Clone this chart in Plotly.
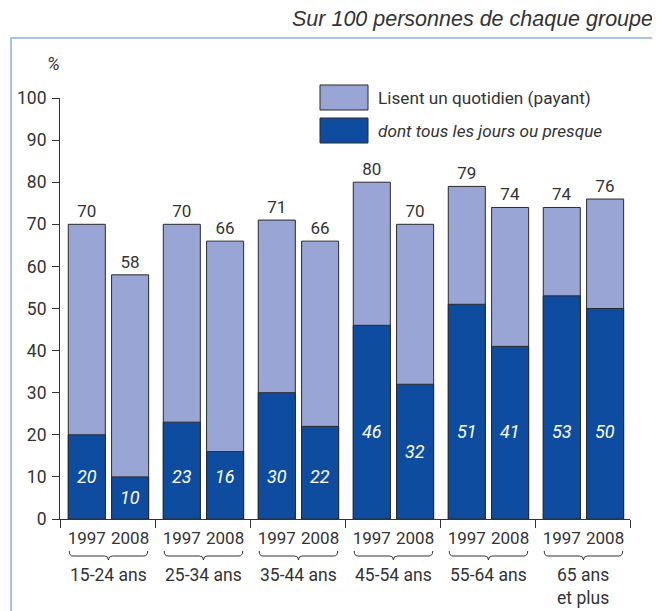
import plotly.graph_objects as go

# ---------------- data ----------------
groups = ["15-24 ans", "25-34 ans", "35-44 ans", "45-54 ans", "55-64 ans", "65 ans<br>et plus"]
years = ["1997", "2008"]
total_1997 = [70, 70, 71, 80, 79, 74]
total_2008 = [58, 66, 66, 70, 74, 76]
daily_1997 = [20, 23, 30, 46, 51, 53]
daily_2008 = [10, 16, 22, 32, 41, 50]
series_names = ["Lisent un quotidien (payant)", "dont tous les jours ou presque"]
y_ticks = [0, 10, 20, 30, 40, 50, 60, 70, 80, 90, 100]

# ---------------- layout helpers ----------------
OFF = 8  # page body margin
W, H = 660 - OFF, 611 - OFF
ML, MT = 60 - OFF, 98 - OFF
MR = W - (630 - OFF)
MB = H - (519 - OFF)
PW, PH = W - ML - MR, H - MT - MB

def px_x(p):  # page pixel -> paper x
    return (p - OFF - ML) / PW

def px_y(p):  # page pixel -> paper y
    return (H - MB - (p - OFF)) / PH

FONT = "Roboto, Liberation Sans, sans-serif"
TXT = "#333333"
LIGHT = "#99a6d5"
DARK = "#0e4ca0"
EDGE = "#2a2a2a"

offset = 0.228
center = 0.51
bar_w = 0.39
# vertical placement of the white italic labels (layout only)
inside_y_1997 = [10, 10, 10, 20.7, 20.7, 20.7]
inside_y_2008 = [5, 10, 10, 16, 20.7, 20.7]

n = len(groups)
x97 = [i + center - offset for i in range(n)]
x08 = [i + center + offset for i in range(n)]

fig = go.Figure()
for xs, tot in ((x97, total_1997), (x08, total_2008)):
    fig.add_trace(go.Bar(
        x=xs, y=tot, width=bar_w, marker=dict(color=LIGHT, line=dict(color=EDGE, width=1)),
        text=[str(v) for v in tot], textposition="outside",
        textfont=dict(family=FONT, size=17, color=TXT), cliponaxis=False,
        name=series_names[0], showlegend=False, hoverinfo="y"))
for xs, d in ((x97, daily_1997), (x08, daily_2008)):
    fig.add_trace(go.Bar(
        x=xs, y=d, width=bar_w, marker=dict(color=DARK, line=dict(color=EDGE, width=1)),
        name=series_names[1], showlegend=False, hoverinfo="y"))

annotations = []
for xs, d, ly in ((x97, daily_1997, inside_y_1997), (x08, daily_2008, inside_y_2008)):
    for x, v, yy in zip(xs, d, ly):
        annotations.append(dict(x=x, y=yy, xref="x", yref="y", text=f"<i>{v}</i>", showarrow=False,
                                xanchor="center", yanchor="middle",
                                font=dict(family=FONT, size=18, color="white")))

shapes = []
# frame
shapes.append(dict(type="rect", xref="paper", yref="paper", x0=px_x(11), x1=px_x(657),
                   y0=px_y(640), y1=px_y(38), line=dict(color="#8fb0dc", width=1.5), layer="below"))
# braces + group labels
yt, ym, ytip = px_y(551), px_y(556), px_y(560)
for i, g in enumerate(groups):
    x0 = x97[i] - bar_w / 2 + 0.01
    x1 = x08[i] + bar_w / 2 - 0.01
    xc = i + center
    d = 0.04
    path = (f"M {x0},{yt} Q {x0},{ym} {x0+d},{ym} L {xc-d},{ym} Q {xc},{ym} {xc},{ytip} "
            f"Q {xc},{ym} {xc+d},{ym} L {x1-d},{ym} Q {x1},{ym} {x1},{yt}")
    shapes.append(dict(type="path", xref="x", yref="paper", path=path,
                       line=dict(color=TXT, width=1)))
    annotations.append(dict(x=xc, y=px_y(563), xref="x", yref="paper", text=g, showarrow=False,
                            xanchor="center", yanchor="top", font=dict(family=FONT, size=17.5, color=TXT)))

# legend
for k, (name, col) in enumerate(zip(series_names, [LIGHT, DARK])):
    top = 85 + k * 33
    shapes.append(dict(type="rect", xref="paper", yref="paper", x0=px_x(320), x1=px_x(368),
                       y0=px_y(top + 25), y1=px_y(top), fillcolor=col, line=dict(color=EDGE, width=1)))
    txt = name if k == 0 else f"<i>{name}</i>"
    annotations.append(dict(x=px_x(376), y=px_y(top + 12.5), xref="paper", yref="paper", text=txt,
                            showarrow=False, xanchor="left", yanchor="middle",
                            font=dict(family=FONT, size=17.2, color=TXT)))

# title and unit
annotations.append(dict(x=px_x(655), y=px_y(19), xref="paper", yref="paper",
                        text="<i>Sur 100 personnes de chaque groupe</i>", showarrow=False,
                        xanchor="right", yanchor="middle",
                        font=dict(family="Liberation Sans, Arial, sans-serif", size=21.5, color=TXT)))
annotations.append(dict(x=px_x(53), y=px_y(64), xref="paper", yref="paper", text="<i>%</i>",
                        showarrow=False, xanchor="center", yanchor="middle",
                        font=dict(family=FONT, size=18, color=TXT)))

fig.update_layout(
    width=W, height=H, margin=dict(l=ML, r=MR, t=MT, b=MB, autoexpand=False),
    barmode="overlay", plot_bgcolor="white", paper_bgcolor="white",
    shapes=shapes, annotations=annotations, showlegend=False,
    font=dict(family=FONT, color=TXT),
)
fig.update_xaxes(range=[0, n], tickvals=x97 + x08, ticktext=[years[0]] * n + [years[1]] * n,
                 ticks="", showgrid=False, zeroline=False, showline=True, linecolor=TXT, linewidth=1,
                 tickfont=dict(family=FONT, size=17, color=TXT), ticklabelstandoff=4, automargin=False,
                 minor=dict(ticks="outside", tick0=0, dtick=1, ticklen=8, tickcolor=TXT, showgrid=False))
fig.update_yaxes(range=[0, 100], tickvals=y_ticks, ticks="outside", ticklen=7, tickcolor=TXT,
                 showgrid=False, zeroline=False, showline=True, linecolor=TXT, linewidth=1, automargin=False,
                 tickfont=dict(family=FONT, size=17.5, color=TXT), ticklabelstandoff=2)

fig.write_html("out.html")
